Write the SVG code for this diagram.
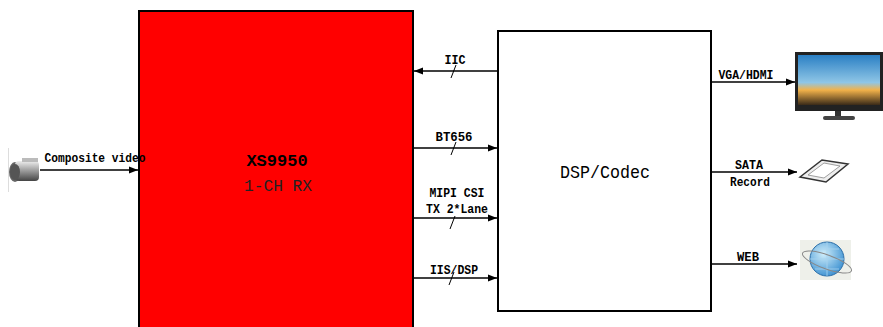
<svg xmlns="http://www.w3.org/2000/svg" width="883" height="327" viewBox="0 0 883 327">
<style>
.lbl{font-family:"Liberation Mono",monospace;font-weight:bold;font-size:12.5px;fill:#000;text-anchor:middle}
.ln{stroke:#000;stroke-width:1.3;fill:none}
.tick{stroke:#000;stroke-width:1;fill:none}
</style>
<defs>
<marker id="ah" viewBox="0 0 10 10" refX="10" refY="5" markerWidth="9" markerHeight="9" markerUnits="userSpaceOnUse" orient="auto">
<path d="M0,1 L10,5 L0,9 z" fill="#000"/>
</marker>
<radialGradient id="glb" cx="0.4" cy="0.35" r="0.7">
<stop offset="0" stop-color="#cfeefb"/><stop offset="1" stop-color="#3a8fd0"/>
</radialGradient>
<linearGradient id="scr" x1="0" y1="0" x2="0" y2="1">
<stop offset="0" stop-color="#2a7fc4"/><stop offset="0.55" stop-color="#8fc6e6"/><stop offset="0.7" stop-color="#f2b24a"/><stop offset="1" stop-color="#3a2a18"/>
</linearGradient>
<linearGradient id="cam" x1="0" y1="0" x2="0" y2="1">
<stop offset="0" stop-color="#eee"/><stop offset="0.5" stop-color="#999"/><stop offset="1" stop-color="#444"/>
</linearGradient>
</defs>

<g id="xs9950">
<rect x="139" y="11" width="274" height="320" fill="#ff0000" stroke="#000" stroke-width="2"/>
<text x="277" y="166" font-family="Liberation Mono,monospace" font-weight="bold" font-size="17" text-anchor="middle">XS9950</text>
<text x="278" y="191" font-family="Liberation Mono,monospace" font-size="17" text-anchor="middle" fill="#222" textLength="68" lengthAdjust="spacingAndGlyphs">1-CH RX</text>
</g>

<g id="dsp">
<rect x="498" y="31" width="213" height="280" fill="#fff" stroke="#000" stroke-width="2"/>
<text x="605" y="178" font-family="Liberation Mono,monospace" font-size="18" text-anchor="middle" textLength="90" lengthAdjust="spacingAndGlyphs">DSP/Codec</text>
</g>

<g id="camera">
<rect x="8" y="148" width="1" height="44" fill="#ddd"/>
<ellipse cx="15" cy="172" rx="6" ry="10" fill="#666"/>
<rect x="15" y="161" width="24" height="20" rx="4" fill="url(#cam)"/>
<ellipse cx="15" cy="172" rx="5" ry="8" fill="#555"/>
<rect x="22" y="158" width="16" height="4" fill="#bbb"/>
</g>

<g id="monitor">
<rect x="795" y="52" width="88" height="59" fill="#222"/>
<rect x="798" y="55" width="82" height="50" fill="url(#scr)"/>
<rect x="835" y="111" width="6" height="6" fill="#333"/>
<rect x="823" y="116" width="32" height="4" rx="2" fill="#444"/>
</g>

<g id="hdd">
<path d="M800,177 L822,160 L848,164 L826,182 Z" fill="#eee" stroke="#333" stroke-width="1.5"/>
<path d="M808,175 L824,163 L840,166 L824,178 Z" fill="#fff" stroke="#888" stroke-width="0.8"/>
</g>

<g id="web">
<rect x="800" y="240" width="51" height="40" fill="#eef0ea"/>
<circle cx="827" cy="259" r="17" fill="url(#glb)" stroke="#2d6fa8" stroke-width="1"/>
<path d="M810,259 H844 M827,242 V276 M815,249 H839 M815,269 H839" stroke="#a9d4ef" stroke-width="0.8" fill="none"/>
<ellipse cx="827" cy="262" rx="26" ry="7" transform="rotate(20 827 262)" fill="none" stroke="#888" stroke-width="1"/>
</g>

<g id="connectors">
<line class="ln" x1="40" y1="170" x2="138" y2="170" marker-end="url(#ah)"/>
<line class="ln" x1="497" y1="71" x2="414" y2="71" marker-end="url(#ah)" stroke="#444"/>
<line class="tick" x1="451" y1="78" x2="456" y2="65"/>
<line class="ln" x1="414" y1="148" x2="497" y2="148" marker-end="url(#ah)"/>
<line class="tick" x1="451" y1="155" x2="456" y2="142"/>
<line class="ln" x1="414" y1="218" x2="497" y2="218" marker-end="url(#ah)"/>
<line class="tick" x1="450" y1="229" x2="455" y2="216"/>
<line class="ln" x1="414" y1="278" x2="497" y2="278" marker-end="url(#ah)"/>
<line class="tick" x1="449" y1="285" x2="454" y2="272"/>
<line class="ln" x1="712" y1="82" x2="795" y2="82" marker-end="url(#ah)"/>
<line class="ln" x1="712" y1="172" x2="797" y2="172" marker-end="url(#ah)"/>
<line class="ln" x1="712" y1="264" x2="797" y2="264" marker-end="url(#ah)"/>
<text class="lbl" x="95" y="162" textLength="101" lengthAdjust="spacingAndGlyphs">Composite video</text>
<text class="lbl" x="455" y="64" textLength="21" lengthAdjust="spacingAndGlyphs">IIC</text>
<text class="lbl" x="454" y="141" textLength="37" lengthAdjust="spacingAndGlyphs">BT656</text>
<text class="lbl" x="457" y="197" textLength="55" lengthAdjust="spacingAndGlyphs">MIPI CSI</text>
<text class="lbl" x="457" y="213" textLength="62" lengthAdjust="spacingAndGlyphs">TX 2*Lane</text>
<text class="lbl" x="454" y="274" textLength="48" lengthAdjust="spacingAndGlyphs">IIS/DSP</text>
<text class="lbl" x="746" y="79" textLength="55" lengthAdjust="spacingAndGlyphs">VGA/HDMI</text>
<text class="lbl" x="749" y="169" textLength="28" lengthAdjust="spacingAndGlyphs">SATA</text>
<text class="lbl" x="750" y="186" textLength="40" lengthAdjust="spacingAndGlyphs">Record</text>
<text class="lbl" x="748" y="261" textLength="22" lengthAdjust="spacingAndGlyphs">WEB</text>
</g>
</svg>
